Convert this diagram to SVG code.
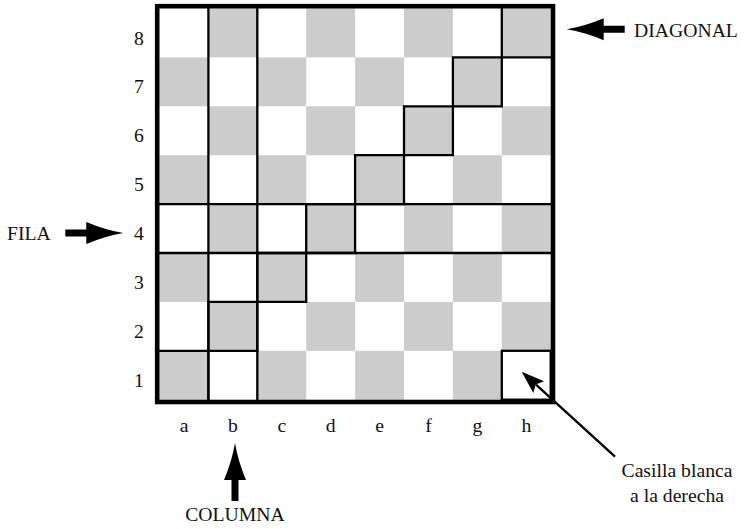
<svg xmlns="http://www.w3.org/2000/svg" width="753" height="529" viewBox="0 0 753 529">
<style>
.g{fill:#cccccc}
.ln{fill:none;stroke:#000;stroke-width:2.3;stroke-linecap:square}
.bd{fill:none;stroke:#000;stroke-width:4.6}
.t{font-family:"Liberation Serif",serif;font-size:19.7px;fill:#111}
.m{text-anchor:middle}
</style>
<defs>
<path id="arr" d="M0,0 Q-18,-3 -37,-11 L-37,-3.5 L-58,-3.5 L-58,3.5 L-37,3.5 L-37,11 Q-18,3 0,0 Z" fill="#000"/>
</defs>
<rect width="753" height="529" fill="#fff"/>
<g id="board">
<rect x="159.5" y="8.5" width="391.2" height="391.2" fill="#fff"/>
<g id="squares">
<rect class="g" x="208.4" y="8.5" width="48.9" height="48.9"/><rect class="g" x="306.2" y="8.5" width="48.9" height="48.9"/><rect class="g" x="404" y="8.5" width="48.9" height="48.9"/><rect class="g" x="501.8" y="8.5" width="48.9" height="48.9"/>
<rect class="g" x="159.5" y="57.4" width="48.9" height="48.9"/><rect class="g" x="257.3" y="57.4" width="48.9" height="48.9"/><rect class="g" x="355.1" y="57.4" width="48.9" height="48.9"/><rect class="g" x="452.9" y="57.4" width="48.9" height="48.9"/>
<rect class="g" x="208.4" y="106.3" width="48.9" height="48.9"/><rect class="g" x="306.2" y="106.3" width="48.9" height="48.9"/><rect class="g" x="404" y="106.3" width="48.9" height="48.9"/><rect class="g" x="501.8" y="106.3" width="48.9" height="48.9"/>
<rect class="g" x="159.5" y="155.2" width="48.9" height="48.9"/><rect class="g" x="257.3" y="155.2" width="48.9" height="48.9"/><rect class="g" x="355.1" y="155.2" width="48.9" height="48.9"/><rect class="g" x="452.9" y="155.2" width="48.9" height="48.9"/>
<rect class="g" x="208.4" y="204.1" width="48.9" height="48.9"/><rect class="g" x="306.2" y="204.1" width="48.9" height="48.9"/><rect class="g" x="404" y="204.1" width="48.9" height="48.9"/><rect class="g" x="501.8" y="204.1" width="48.9" height="48.9"/>
<rect class="g" x="159.5" y="253" width="48.9" height="48.9"/><rect class="g" x="257.3" y="253" width="48.9" height="48.9"/><rect class="g" x="355.1" y="253" width="48.9" height="48.9"/><rect class="g" x="452.9" y="253" width="48.9" height="48.9"/>
<rect class="g" x="208.4" y="301.9" width="48.9" height="48.9"/><rect class="g" x="306.2" y="301.9" width="48.9" height="48.9"/><rect class="g" x="404" y="301.9" width="48.9" height="48.9"/><rect class="g" x="501.8" y="301.9" width="48.9" height="48.9"/>
<rect class="g" x="159.5" y="350.8" width="48.9" height="48.9"/><rect class="g" x="257.3" y="350.8" width="48.9" height="48.9"/><rect class="g" x="355.1" y="350.8" width="48.9" height="48.9"/><rect class="g" x="452.9" y="350.8" width="48.9" height="48.9"/>
</g>
<g id="outlines">
<line class="ln" x1="208.4" y1="8.5" x2="208.4" y2="399.7"/>
<line class="ln" x1="257.3" y1="8.5" x2="257.3" y2="399.7"/>
<line class="ln" x1="159.5" y1="204.1" x2="550.7" y2="204.1"/>
<line class="ln" x1="159.5" y1="253" x2="550.7" y2="253"/>
<path class="ln" d="M159.5,350.8 H208.4 V301.9 H257.3 V253 H306.2 V204.1 H355.1 V155.2 H404 V106.3 H452.9 V57.4 H501.8 V8.5"/>
<path class="ln" d="M208.4,399.7 V350.8 H257.3 V301.9 H306.2 V253 H355.1 V204.1 H404 V155.2 H452.9 V106.3 H501.8 V57.4 H550.7"/>
<rect class="ln" x="501.8" y="350.8" width="48.9" height="48.9"/>
</g>
<rect class="bd" x="157.2" y="6.2" width="395.8" height="395.8"/>
</g>
<g id="ranks" class="t m">
<text x="139" y="44.5">8</text><text x="139" y="93.4">7</text><text x="139" y="142.3">6</text><text x="139" y="191.2">5</text><text x="139" y="240.1">4</text><text x="139" y="289">3</text><text x="139" y="337.9">2</text><text x="139" y="386.8">1</text>
</g>
<g id="files" class="t m">
<text x="184" y="431.5">a</text><text x="232.9" y="431.5">b</text><text x="281.8" y="431.5">c</text><text x="330.7" y="431.5">d</text><text x="379.6" y="431.5">e</text><text x="428.5" y="431.5">f</text><text x="477.4" y="431.5">g</text><text x="526.3" y="431.5">h</text>
</g>
<g id="diagonal">
<use href="#arr" transform="translate(566.7,29.3) rotate(180)"/>
<text class="t" x="634" y="36.7">DIAGONAL</text>
</g>
<g id="fila">
<text class="t" x="7" y="240">FILA</text>
<use href="#arr" transform="translate(123.3,233)"/>
</g>
<g id="columna">
<use href="#arr" transform="translate(235,443) rotate(-90)"/>
<text class="t m" x="235" y="521">COLUMNA</text>
</g>
<g id="casilla">
<text class="t m" x="677" y="476.7">Casilla blanca</text>
<text class="t m" x="677" y="501.7">a la derecha</text>
</g>
<g id="connectors">
<line x1="615" y1="456.7" x2="536" y2="384.6" stroke="#000" stroke-width="2.3"/>
<path d="M521.7,371.7 L544.1,381.3 L535.7,384.5 L533.3,393.1 Z" fill="#000"/>
</g>
</svg>
